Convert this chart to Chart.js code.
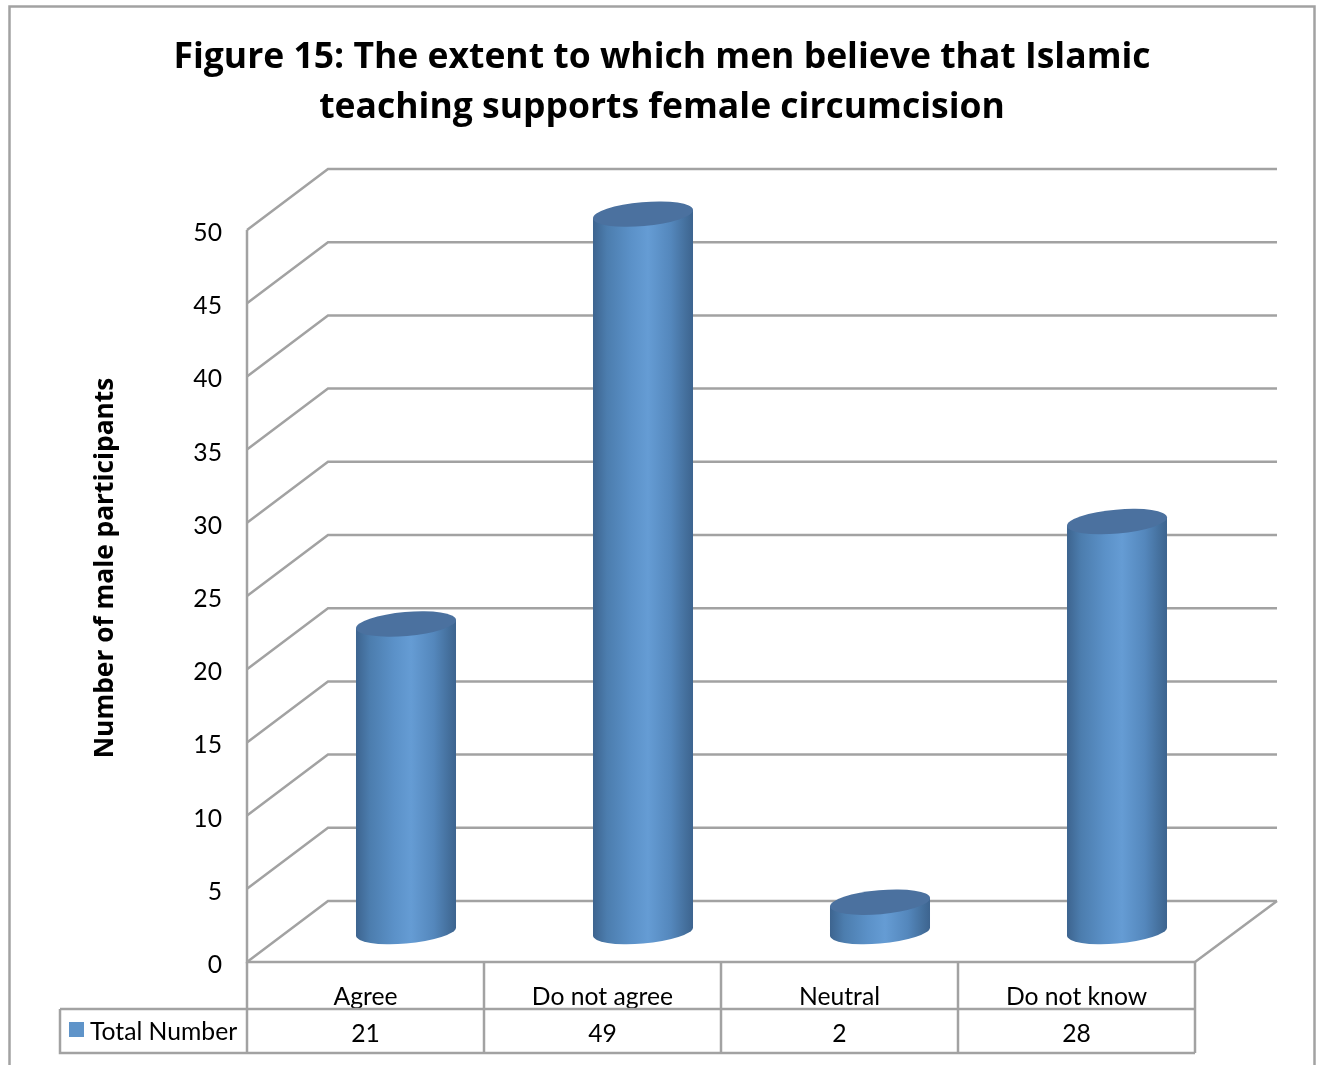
<!DOCTYPE html>
<html>
<head>
<meta charset="utf-8">
<title>Figure 15</title>
<style>
  html,body{margin:0;padding:0;background:#fff;overflow:hidden}
  canvas{display:block}
</style>
<script src="https://cdn.jsdelivr.net/npm/chart.js@4/dist/chart.umd.min.js"></script>
</head>
<body>
<canvas id="chart" width="1317" height="1065"></canvas>
<script>
/* ===== Data ===== */
const categories = ['Agree','Do not agree','Neutral','Do not know'];
const totalNumber = [21,49,2,28];
const seriesName = 'Total Number';
const titleLines = ['Figure 15: The extent to which men believe that Islamic','teaching supports female circumcision'];
const yAxisTitle = 'Number of male participants';

/* ===== Look ===== */
const FONT = 'Lato, "Open Sans", sans-serif';
const BOLD_FONT = '"Open Sans", Lato, sans-serif';
const GREY = '#a2a2a2';
const DEPTH_X = 81, DEPTH_Y = 61;   // how far the back wall sits from the front plane
const TILT = -5*Math.PI/180;        // cylinder caps lean a little
const CAP_MINOR = 12;

/* ===== Cylinder bars ===== */
class CylinderBar extends Chart.BarElement {
  draw(ctx){
    const {x,y,base,width} = this.getProps(['x','y','base','width']);
    const cx = x + DEPTH_X/2, top = y - DEPTH_Y/2, bottom = base - DEPTH_Y/2;
    const half = width/2;
    const cos = Math.cos(TILT), sin = Math.sin(TILT);
    const a = Math.sqrt((half*half - CAP_MINOR*CAP_MINOR*sin*sin)/(cos*cos));
    const t0 = Math.atan2(-CAP_MINOR*sin, a*cos);   // right-hand tangent point of the cap
    const dy = a*Math.cos(t0)*sin + CAP_MINOR*Math.sin(t0)*cos;

    const side = ctx.createLinearGradient(cx-half,0,cx+half,0);
    side.addColorStop(0,'#3d648f');
    side.addColorStop(.14,'#4c7dae');
    side.addColorStop(.38,'#5b91c8');
    side.addColorStop(.55,'#659cd4');
    side.addColorStop(.78,'#5487bc');
    side.addColorStop(.93,'#446f9c');
    side.addColorStop(1,'#3d648f');

    ctx.save();
    ctx.fillStyle = side;
    ctx.beginPath();
    ctx.moveTo(cx+half, top+dy);
    ctx.lineTo(cx+half, bottom+dy);
    ctx.ellipse(cx,bottom,a,CAP_MINOR,TILT,t0,t0+Math.PI);
    ctx.lineTo(cx-half, top-dy);
    ctx.closePath();
    ctx.fill();

    ctx.fillStyle = '#4b719f';
    ctx.beginPath();
    ctx.ellipse(cx,top,a,CAP_MINOR,TILT,0,Math.PI*2);
    ctx.fill();
    ctx.restore();
  }
}
CylinderBar.id = 'cylinderBar';
CylinderBar.defaults = Object.assign({},Chart.BarElement.defaults);

class CylinderController extends Chart.BarController {}
CylinderController.id = 'cylinder';
CylinderController.defaults = Object.assign({},Chart.BarController.defaults,{dataElementType:'cylinderBar'});
CylinderController.overrides = Chart.BarController.overrides;

Chart.register(CylinderBar,CylinderController);

/* ===== Frame, 3D walls and data table ===== */
function line(ctx,pts){
  ctx.beginPath();
  pts.forEach((p,i)=> i ? ctx.lineTo(p[0],p[1]) : ctx.moveTo(p[0],p[1]));
  ctx.stroke();
}

// runs one of the scale's draw steps with a small vertical nudge
function nudge(scale,method,dy){
  const draw = scale[method];
  scale[method] = function(...args){
    scale.ctx.save();
    scale.ctx.translate(0,dy);
    draw.apply(this,args);
    scale.ctx.restore();
  };
}

const wallsPlugin = {
  id:'walls',
  afterLayout(chart){
    // centre the two title lines over the plot, not the canvas
    chart.titleBlock.left = 0;
    chart.titleBlock.right = 1324;
    nudge(chart.scales.y,'drawLabels',3);
    nudge(chart.scales.y,'drawTitle',-28);
  },
  beforeDatasetsDraw(chart){
    const {ctx,scales:{x,y}} = chart;
    const l = x.left, r = x.right, zero = y.getPixelForValue(0);
    ctx.save();
    ctx.strokeStyle = GREY;
    ctx.lineWidth = 2.5;
    line(ctx,[[9.5,1100],[9.5,6.5],[1314.5,6.5],[1314.5,1100]]);
    y.ticks.forEach(t=>{
      const py = y.getPixelForValue(t.value);
      line(ctx,[[l,py],[l+DEPTH_X,py-DEPTH_Y],[r+DEPTH_X+1,py-DEPTH_Y]]);
    });
    line(ctx,[[r+DEPTH_X+1,zero-DEPTH_Y],[r,zero]]);
    line(ctx,[[l,y.getPixelForValue(50)],[l,zero],[r,zero]]);
    ctx.restore();
  },
  afterDatasetsDraw(chart){
    const {ctx,scales:{x,y}} = chart;
    const l = x.left, r = x.right, zero = y.getPixelForValue(0);
    const rowTop = 1009, rowBottom = 1053, step = (r-l)/categories.length;
    ctx.save();
    ctx.strokeStyle = GREY;
    ctx.lineWidth = 2.5;
    for(let i=0;i<=categories.length;i++){
      line(ctx,[[l+i*step,zero],[l+i*step,rowBottom]]);
    }
    line(ctx,[[60,rowTop],[r,rowTop]]);
    line(ctx,[[60,rowTop],[60,rowBottom],[r,rowBottom]]);

    ctx.fillStyle = '#5f94c9';
    ctx.fillRect(69,1022,15,15);

    ctx.fillStyle = '#000';
    ctx.font = '24.7px '+FONT;
    ctx.textBaseline = 'middle';
    ctx.textAlign = 'left';
    ctx.fillText(seriesName,90,1032);
    ctx.textAlign = 'center';
    totalNumber.forEach((v,i)=> ctx.fillText(v,x.getPixelForValue(i),1034));
    ctx.restore();
  }
};

/* ===== Chart ===== */
new Chart(document.getElementById('chart'),{
  type:'cylinder',
  data:{
    labels:categories,
    datasets:[{label:seriesName,data:totalNumber,backgroundColor:'#5f94c9',barPercentage:.844,categoryPercentage:.5,clip:false}]
  },
  plugins:[wallsPlugin],
  options:{
    responsive:false,
    animation:false,
    layout:{padding:{left:85,right:122,top:0,bottom:0}},
    plugins:{
      legend:{display:false},
      tooltip:{enabled:false},
      title:{
        display:true,
        text:titleLines,
        color:'#000',
        font:{family:BOLD_FONT,size:35.5,weight:'bold',lineHeight:50/35.5},
        padding:{top:33,bottom:97}
      }
    },
    scales:{
      x:{
        grid:{display:false},
        border:{display:false},
        afterFit(s){ s.height = 103; },
        ticks:{color:'#000',font:{family:FONT,size:24.7},padding:12,maxRotation:0,autoSkip:false}
      },
      y:{
        min:0,max:50,
        grid:{display:false,drawTicks:false},
        border:{display:false},
        afterFit(s){ s.width = 162; },
        title:{display:true,text:yAxisTitle,color:'#000',font:{family:BOLD_FONT,size:26.3,weight:'bold'},padding:{top:5,bottom:0}},
        ticks:{stepSize:5,color:'#000',font:{family:FONT,size:24.7},padding:25}
      }
    }
  }
});
</script>
</body>
</html>
